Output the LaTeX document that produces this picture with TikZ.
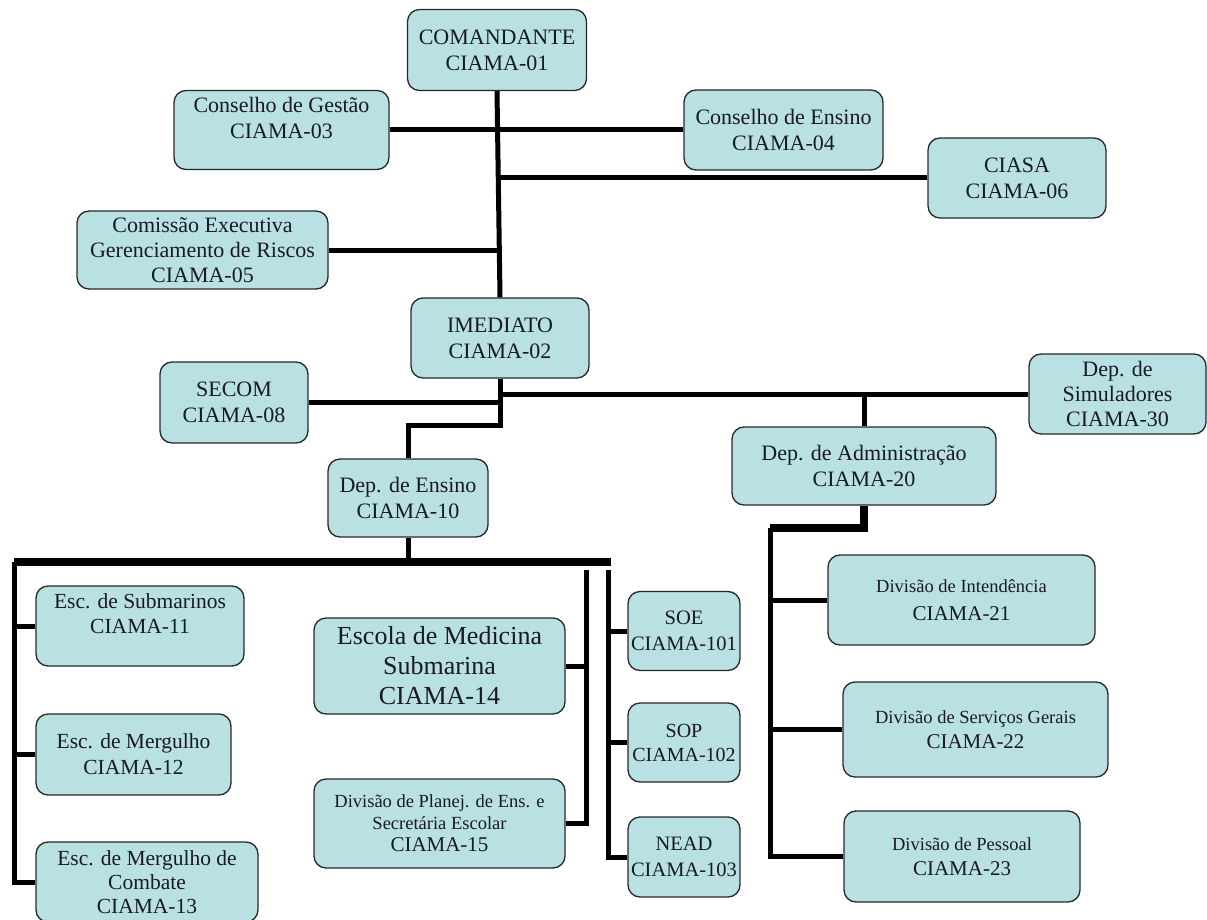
\documentclass[tikz,border=0pt]{standalone}
\usepackage{fontspec}
\setmainfont{Liberation Serif}
\definecolor{boxfill}{RGB}{185,224,227}
\definecolor{boxline}{RGB}{40,40,40}
\definecolor{txtc}{RGB}{25,25,40}
\newcommand{\liftup}[2]{\raisebox{#1}[\height][\depth]{\begin{tabular}{@{}c@{}}#2\end{tabular}}}
\newcommand{\smalltxt}[1]{{\fontsize{18.5}{20}\selectfont #1}}
\begin{document}
\begin{tikzpicture}[x=1pt,y=-1pt,
  box/.style={draw=boxline, line width=1.3pt, fill=boxfill, rounded corners=12pt,
    align=center, inner sep=0pt, text=txtc, font=\fontsize{22}{26}\selectfont},
  conn/.style={line width=5pt, black},
  thickconn/.style={line width=8pt, black}]
\useasboundingbox (0,0) rectangle (1207,920);
\clip (0,0) rectangle (1207,920);

% top level
\node[box, minimum width=179, minimum height=81] (com) at (497,50) {COMANDANTE\\CIAMA-01};
\node[box, minimum width=215, minimum height=79] (ges) at (281.5,130) {\liftup{10pt}{Conselho de Gestão\\CIAMA-03}};
\node[box, minimum width=199, minimum height=80] (ens) at (783.5,130) {Conselho de Ensino\\CIAMA-04};
\node[box, minimum width=178, minimum height=80] (ciasa) at (1017,178) {CIASA\\CIAMA-06};
\node[box, minimum width=251, minimum height=78, font=\fontsize{22}{25}\selectfont] (cer) at (202.5,250) {Comissão Executiva\\Gerenciamento de Riscos\\CIAMA-05};
\node[box, minimum width=178, minimum height=80] (imd) at (500,338) {IMEDIATO\\CIAMA-02};
\node[box, minimum width=148, minimum height=81] (secom) at (234,402.5) {SECOM\\CIAMA-08};
\node[box, minimum width=177, minimum height=80, font=\fontsize{22}{25}\selectfont] (sim) at (1117.5,394) {Dep. de\\Simuladores\\CIAMA-30};
\node[box, minimum width=264, minimum height=78] (adm) at (864,466) {Dep. de Administração\\CIAMA-20};
\node[box, minimum width=160, minimum height=78] (dep10) at (408,498) {Dep. de Ensino\\CIAMA-10};

% ensino column
\node[box, minimum width=208, minimum height=80, font=\fontsize{21.5}{25}\selectfont] (esc11) at (140,626) {\liftup{10pt}{Esc. de Submarinos\\CIAMA-11}};
\node[box, minimum width=195, minimum height=81, font=\fontsize{21.5}{26}\selectfont] (esc12) at (133.5,754.5) {Esc. de Mergulho\\CIAMA-12};
\node[box, minimum width=222, minimum height=80, font=\fontsize{21.5}{24}\selectfont] (esc13) at (147,882) {Esc. de Mergulho de\\Combate\\CIAMA-13};
\node[box, minimum width=251, minimum height=96, font=\fontsize{26}{30}\selectfont] (esc14) at (439.5,666) {Escola de Medicina\\Submarina\\CIAMA-14};
\node[box, minimum width=251, minimum height=89, font=\fontsize{18.5}{22}\selectfont] (esc15) at (439.5,823.5) {Divisão de Planej. de Ens. e\\Secretária Escolar\\{\fontsize{21}{22}\selectfont CIAMA-15}};
\node[box, minimum width=112, minimum height=79, font=\fontsize{20.5}{26}\selectfont] (soe) at (684,631) {SOE\\CIAMA-101};
\node[box, minimum width=112, minimum height=79, font=\fontsize{20}{24}\selectfont] (sop) at (684,742.5) {SOP\\CIAMA-102};
\node[box, minimum width=112, minimum height=80, font=\fontsize{20.5}{26}\selectfont] (nead) at (684,857) {NEAD\\CIAMA-103};

% administracao column
\node[box, minimum width=267, minimum height=90, font=\fontsize{21}{28}\selectfont] (div21) at (961.5,600) {\smalltxt{Divisão de Intendência}\\CIAMA-21};
\node[box, minimum width=265, minimum height=95, font=\fontsize{21}{25}\selectfont] (div22) at (975.5,729.5) {\smalltxt{Divisão de Serviços Gerais}\\CIAMA-22};
\node[box, minimum width=236, minimum height=91, font=\fontsize{21}{25}\selectfont] (div23) at (962,856.5) {\smalltxt{Divisão de Pessoal}\\CIAMA-23};

% connectors: comandante
\draw[conn] (com.south) -- (imd.north);
\draw[conn] (ges.east) -- (ens.west);
\draw[conn] (ciasa.west) -- (ciasa.west -| com.south);
\draw[conn] (cer.east) -- (cer.east -| com.south);

% connectors: imediato
\coordinate (jog) at (500,425);
\draw[conn] (imd.south) -- (jog) -| (dep10.north);
\draw[conn] (secom.east) -- (secom.east -| imd.south);
\draw[conn] (sim.west) -- (sim.west -| imd.south);
\draw[conn] (adm.north) -- (adm.north |- sim.west);

% connectors: dep. de ensino
\coordinate (barL) at (14,562);
\coordinate (barR) at (611,562);
\draw[conn] (dep10.south) -- (dep10.south |- barL);
\draw[thickconn] (barL) -- (barR);
\draw[conn] (barL) |- (esc13.west);
\draw[conn] (esc11.west) -- (esc11.west -| barL);
\draw[conn] (esc12.west) -- (esc12.west -| barL);
\coordinate (vmid) at (586,570);
\draw[conn] (vmid) |- (esc15.east);
\draw[conn] (esc14.east) -- (esc14.east -| vmid);
\coordinate (vright) at (608,570);
\draw[conn] (vright) |- (nead.west);
\draw[conn] (soe.west) -- (soe.west -| vright);
\draw[conn] (sop.west) -- (sop.west -| vright);

% connectors: dep. de administracao
\coordinate (acorner) at (770,528);
\draw[thickconn] (adm.south) -- (adm.south |- acorner) -- (acorner);
\draw[conn] (acorner) |- (div23.west);
\draw[conn] (div21.west) -- (div21.west -| acorner);
\draw[conn] (div22.west) -- (div22.west -| acorner);
\end{tikzpicture}
\end{document}
